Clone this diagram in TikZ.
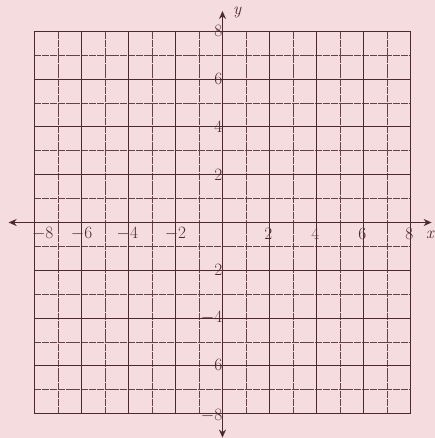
\documentclass[tikz,border=0pt]{standalone}
\usetikzlibrary{arrows.meta}
\definecolor{paper}{HTML}{F5DCDF}
\definecolor{ink}{HTML}{4A2A30}
\definecolor{inklight}{HTML}{65424A}
\begin{document}
\begin{tikzpicture}[x=23.5pt,y=23.9pt,
  gridodd/.style={inklight,line width=0.75pt,dash pattern=on 7pt off 0.8pt},
  grideven/.style={ink,line width=0.95pt},
  axis/.style={ink,line width=1.4pt,-{Stealth[length=8pt,width=7pt]}},
  lab/.style={ink,font=\fontsize{16}{18}\selectfont,inner sep=1pt}]
\fill[paper] (-9.468,-9.017) rectangle (9.043,9.310);
\useasboundingbox (-9.468,-9.017) rectangle (9.043,9.310);
% grid
\foreach \i in {-7,-5,...,7} {
  \draw[gridodd] (\i,-8) -- (\i,8);
  \draw[gridodd] (-8,\i) -- (8,\i);
}
\foreach \i in {-8,-6,...,8} {
  \draw[grideven] (\i,-8) -- (\i,8);
  \draw[grideven] (-8,\i) -- (8,\i);
}
% axes
\coordinate (o) at (0,0);
\coordinate (xl) at (-9.1,0);
\coordinate (xr) at (8.9,0);
\coordinate (yt) at (0,8.85);
\coordinate (yb) at (0,-9.0);
\draw[axis] (o) -- (xr);
\draw[axis] (o) -- (xl);
\draw[axis] (o) -- (yt);
\draw[axis] (o) -- (yb);
\node[lab,font=\fontsize{17}{19}\selectfont\itshape] (ylab) at (0.62,8.8) {y};
\node[lab,font=\fontsize{17}{19}\selectfont\itshape,anchor=east] (xlab) at (9.04,-0.5) {x};
% x tick labels
\node[lab] (xm8) at (-7.65,-0.48) {$-8$};
\node[lab] (xm6) at (-6.0,-0.48) {$-6$};
\node[lab] (xm4) at (-4.05,-0.48) {$-4$};
\node[lab] (xm2) at (-2.0,-0.48) {$-2$};
\node[lab] (x2) at (1.95,-0.48) {$2$};
\node[lab] (x4) at (3.95,-0.48) {$4$};
\node[lab] (x6) at (5.95,-0.48) {$6$};
\node[lab] (x8) at (7.95,-0.48) {$8$};
% y tick labels
\node[lab,anchor=east] (y8) at (0.04,8) {$8$};
\node[lab,anchor=east] (y6) at (0.04,6) {$6$};
\node[lab,anchor=east] (y4) at (0.04,4) {$4$};
\node[lab,anchor=east] (y2) at (0.04,2) {$2$};
\node[lab,anchor=east] (ym2) at (0.04,-2) {$-2$};
\node[lab,anchor=east] (ym4) at (0.04,-4) {$-4$};
\node[lab,anchor=east] (ym6) at (0.04,-6) {$-6$};
\node[lab,anchor=east] (ym8) at (0.04,-8.1) {$-8$};
\end{tikzpicture}
\end{document}
